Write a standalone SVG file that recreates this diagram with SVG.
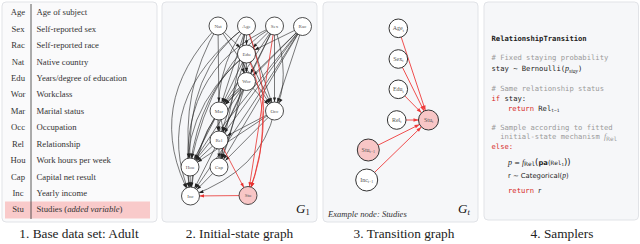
<svg xmlns="http://www.w3.org/2000/svg" width="640" height="244" viewBox="0 0 640 244">
<style>
.panel{fill:#f6f7f9;stroke:#e1e3e7;stroke-width:1}
.cap{font-family:"Liberation Serif",serif;font-size:13.3px;fill:#222;text-anchor:middle}
.ab{font-family:"Liberation Serif",serif;font-size:8.7px;fill:#333;text-anchor:middle}
.ds{font-family:"Liberation Serif",serif;font-size:8.7px;fill:#333}
.e{fill:none;stroke:#222;stroke-width:0.6;marker-end:url(#ab)}
.r{fill:none;stroke:#e8312f;stroke-width:0.8;marker-end:url(#ar)}
.r3{fill:none;stroke:#ee3b3b;stroke-width:0.9;marker-end:url(#ar3)}
.n circle{fill:#fff;stroke:#222;stroke-width:0.8}
.n3 circle{fill:#fff;stroke:#333;stroke-width:1}
.pk circle{fill:#f8c6c6}
.nl{font-family:"Liberation Serif",serif;font-size:5px;fill:#555;text-anchor:middle}
.nl3{font-family:"Liberation Serif",serif;font-size:6px;fill:#555;text-anchor:middle}
.code{font-family:"DejaVu Sans Mono",monospace;font-size:7.2px;fill:#222}
.cm{fill:#9a9a9a}
.kw{fill:#d62828}
.mi{font-family:"Liberation Serif",serif;font-style:italic}
.ms{font-family:"DejaVu Sans",sans-serif;font-size:6.8px;fill:#222}
.gl{font-family:"Liberation Serif",serif;font-style:italic;font-size:13px;fill:#111}
</style>
<defs>
<marker id="ab" markerUnits="userSpaceOnUse" markerWidth="5" markerHeight="4" refX="13.5" refY="1.6" orient="auto" overflow="visible"><path d="M0,0 L4.5,1.6 L0,3.2 z" fill="#222"/></marker>
<marker id="ar" markerUnits="userSpaceOnUse" markerWidth="5" markerHeight="4" refX="13.5" refY="1.6" orient="auto" overflow="visible"><path d="M0,0 L4.5,1.6 L0,3.2 z" fill="#e8312f"/></marker>
<marker id="ar3" markerUnits="userSpaceOnUse" markerWidth="5" markerHeight="4" refX="15" refY="1.8" orient="auto" overflow="visible"><path d="M0,0 L5,1.8 L0,3.6 z" fill="#ee3b3b"/></marker>
</defs>

<!-- Panel 1 -->
<rect class="panel" x="2" y="2" width="155" height="220" rx="4" style="fill:#fafafb"/>
<rect x="5" y="201.5" width="145" height="17" fill="#f9caca"/>
<line x1="31" y1="4" x2="31" y2="219" stroke="#333" stroke-width="0.8"/>
<g>
<text class="ab" x="18" y="15.3">Age</text><text class="ds" x="36.5" y="15.3">Age of subject</text>
<text class="ab" x="18" y="31.7">Sex</text><text class="ds" x="36.5" y="31.7">Self-reported sex</text>
<text class="ab" x="18" y="48.1">Rac</text><text class="ds" x="36.5" y="48.1">Self-reported race</text>
<text class="ab" x="18" y="64.6">Nat</text><text class="ds" x="36.5" y="64.6">Native country</text>
<text class="ab" x="18" y="81">Edu</text><text class="ds" x="36.5" y="81">Years/degree of education</text>
<text class="ab" x="18" y="97.4">Wor</text><text class="ds" x="36.5" y="97.4">Workclass</text>
<text class="ab" x="18" y="113.8">Mar</text><text class="ds" x="36.5" y="113.8">Marital status</text>
<text class="ab" x="18" y="130.2">Occ</text><text class="ds" x="36.5" y="130.2">Occupation</text>
<text class="ab" x="18" y="146.7">Rel</text><text class="ds" x="36.5" y="146.7">Relationship</text>
<text class="ab" x="18" y="163.1">Hou</text><text class="ds" x="36.5" y="163.1">Work hours per week</text>
<text class="ab" x="18" y="179.5">Cap</text><text class="ds" x="36.5" y="179.5">Capital net result</text>
<text class="ab" x="18" y="195.9">Inc</text><text class="ds" x="36.5" y="195.9">Yearly income</text>
<text class="ab" x="18" y="212.3">Stu</text><text class="ds" x="36.5" y="212.3">Studies (<tspan font-style="italic">added variable</tspan>)</text>
</g>
<text class="cap" x="79" y="238">1. Base data set: Adult</text>

<!-- Panel 2 -->
<rect class="panel" x="162" y="2" width="155" height="220" rx="4"/>
<g id="g1-edges">
<path class="e" d="M246.5,26 L246.5,54"/>
<path class="e" d="M246.5,54 L246.5,81.5"/>
<path class="e" d="M246.5,26 Q238,54 246.5,81.5"/>
<path class="e" d="M218,26 L219,111"/>
<path class="e" d="M218,26 L246.5,54"/>
<path class="e" d="M218,26 L274.5,111"/>
<path class="e" d="M246.5,26 L219,111"/>
<path class="e" d="M246.5,26 L274.5,111"/>
<path class="e" d="M274.5,26 L246.5,54"/>
<path class="e" d="M274.5,26 L246.5,81.5"/>
<path class="e" d="M274.5,26 L219,111"/>
<path class="e" d="M274.5,26 L274.5,111"/>
<path class="e" d="M274.5,26 L219,140"/>
<path class="e" d="M302.5,26.5 L246.5,54"/>
<path class="e" d="M302.5,26.5 L246.5,81.5"/>
<path class="e" d="M302.5,26.5 L219,111"/>
<path class="e" d="M302.5,26.5 L274.5,111"/>
<path class="e" d="M302.5,26.5 L219,140"/>
<path class="e" d="M302.5,26.5 L190,167"/>
<path class="e" d="M302.5,26.5 L219,167"/>
<path class="e" d="M302.5,26.5 Q250,110 190.5,196"/>
<path class="e" d="M246.5,54 L219,111"/>
<path class="e" d="M246.5,54 L274.5,111"/>
<path class="e" d="M246.5,54 L219,140"/>
<path class="e" d="M246.5,81.5 L219,111"/>
<path class="e" d="M246.5,81.5 L274.5,111"/>
<path class="e" d="M246.5,81.5 L219,140"/>
<path class="e" d="M246.5,81.5 L219,167"/>
<path class="e" d="M246.5,81.5 L190,167"/>
<path class="e" d="M219,111 L219,140"/>
<path class="e" d="M274.5,111 L219,140"/>
<path class="e" d="M219,111 L190,167"/>
<path class="e" d="M219,111 Q228,140 219,167"/>
<path class="e" d="M274.5,111 L190,167"/>
<path class="e" d="M274.5,111 L219,167"/>
<path class="e" d="M274.5,111 Q262,170 190.5,196"/>
<path class="e" d="M219,140 L190,167"/>
<path class="e" d="M219,140 L219,167"/>
<path class="e" d="M219,140 L190.5,196"/>
<path class="e" d="M190,167 L190.5,196"/>
<path class="e" d="M219,167 L190.5,196"/>
<path class="e" d="M218,26 Q180,90 190,167"/>
<path class="e" d="M218,26 Q142,105 190.5,196"/>
<path class="e" d="M246.5,26 Q185,70 190,167"/>
<path class="e" d="M246.5,26 Q150,100 190.5,196"/>
<path class="e" d="M246.5,26 Q212,70 219,140"/>
<path class="e" d="M246.5,26 Q232,100 219,167"/>
<path class="e" d="M274.5,26 Q212,60 190,167"/>
<path class="e" d="M274.5,26 Q172,70 190.5,196"/>
<path class="e" d="M246.5,54 Q200,90 190,167"/>
<path class="e" d="M246.5,54 Q175,115 190.5,196"/>
<path class="e" d="M246.5,54 Q238,120 219,167"/>
<path class="e" d="M246.5,81.5 Q198,120 190.5,196"/>
<path class="e" d="M219,111 Q192,150 190.5,196"/>
<path class="e" d="M274.5,26 Q292,80 274.5,111"/>
<path class="r" d="M246.5,26 Q280,110 248,195.5"/>
<path class="r" d="M274.5,26 L248,195.5"/>
<path class="r" d="M246.5,54 Q278,120 248,195.5"/>
<path class="r" d="M219,140 L248,195.5"/>
<path class="r" d="M248,195.5 L190.5,196"/>
</g>
<g id="g1-nat" class="n"><circle cx="218" cy="26" r="9"/><text class="nl" x="218" y="27.8">Nat</text></g>
<g id="g1-age" class="n"><circle cx="246.5" cy="26" r="9"/><text class="nl" x="246.5" y="27.8">Age</text></g>
<g id="g1-sex" class="n"><circle cx="274.5" cy="26" r="9"/><text class="nl" x="274.5" y="27.8">Sex</text></g>
<g id="g1-rac" class="n"><circle cx="302.5" cy="26.5" r="9"/><text class="nl" x="302.5" y="28.3">Rac</text></g>
<g id="g1-edu" class="n"><circle cx="246.5" cy="54" r="9"/><text class="nl" x="246.5" y="55.8">Edu</text></g>
<g id="g1-wor" class="n"><circle cx="246.5" cy="81.5" r="9"/><text class="nl" x="246.5" y="83.3">Wor</text></g>
<g id="g1-mar" class="n"><circle cx="219" cy="111" r="9"/><text class="nl" x="219" y="112.8">Mar</text></g>
<g id="g1-occ" class="n"><circle cx="274.5" cy="111" r="9"/><text class="nl" x="274.5" y="112.8">Occ</text></g>
<g id="g1-rel" class="n"><circle cx="219" cy="140" r="9"/><text class="nl" x="219" y="141.8">Rel</text></g>
<g id="g1-hou" class="n"><circle cx="190" cy="167" r="9"/><text class="nl" x="190" y="168.8">Hou</text></g>
<g id="g1-cap" class="n"><circle cx="219" cy="167" r="9"/><text class="nl" x="219" y="168.8">Cap</text></g>
<g id="g1-inc" class="n"><circle cx="190.5" cy="196" r="9"/><text class="nl" x="190.5" y="197.8">Inc</text></g>
<g id="g1-stu" class="n pk"><circle cx="248" cy="195.5" r="9"/><text class="nl" x="248" y="197.3">Stu</text></g>
<text class="gl" x="296" y="213">G<tspan font-size="8.5" font-style="normal" dy="2">1</tspan></text>
<text class="cap" x="239.5" y="238">2. Initial-state graph</text>

<!-- Panel 3 -->
<rect class="panel" x="323" y="2" width="155" height="220" rx="4"/>
<g id="gt-edges">
<path class="r3" d="M398.3,28.3 L428.5,120"/>
<path class="r3" d="M398.3,59 L428.5,120"/>
<path class="r3" d="M398.3,89.3 L428.5,120"/>
<path class="r3" d="M396.7,120 L428.5,120"/>
<path class="r3" d="M368.3,150 L428.5,120"/>
<path class="r3" d="M366.7,180 L428.5,120"/>
</g>
<g id="gt-age" class="n3"><circle cx="398.3" cy="28.3" r="9.3"/><text class="nl3" x="398.3" y="30.3">Age<tspan font-size="4" dy="1.2">t</tspan></text></g>
<g id="gt-sex" class="n3"><circle cx="398.3" cy="59" r="9.3"/><text class="nl3" x="398.3" y="61">Sex<tspan font-size="4" dy="1.2">t</tspan></text></g>
<g id="gt-edu" class="n3"><circle cx="398.3" cy="89.3" r="9.3"/><text class="nl3" x="398.3" y="91.3">Edu<tspan font-size="4" dy="1.2">t</tspan></text></g>
<g id="gt-rel" class="n3"><circle cx="396.7" cy="120" r="9.3"/><text class="nl3" x="396.7" y="122">Rel<tspan font-size="4" dy="1.2">t</tspan></text></g>
<g id="gt-stu" class="n3 pk"><circle cx="428.5" cy="120" r="10"/><text class="nl3" x="428.5" y="122">Stu<tspan font-size="4" dy="1.2">t</tspan></text></g>
<g id="gt-stu1" class="n3 pk"><circle cx="368.3" cy="150" r="11"/><text class="nl3" x="368.3" y="152">Stu<tspan font-size="4" dy="1.2">t−1</tspan></text></g>
<g id="gt-inc1" class="n3"><circle cx="366.7" cy="180" r="11"/><text class="nl3" x="366.7" y="182">Inc<tspan font-size="4" dy="1.2">t−1</tspan></text></g>
<text x="328" y="216.5" font-family="Liberation Serif, serif" font-style="italic" font-size="8.6" fill="#333">Example node: Studies</text>
<text class="gl" x="458" y="213">G<tspan font-size="8.5" dy="2">t</tspan></text>
<text class="cap" x="404" y="238">3. Transition graph</text>

<!-- Panel 4 -->
<rect class="panel" x="484" y="2" width="154.5" height="218" rx="4"/>
<text class="code" x="491.5" y="41" font-weight="bold">RelationshipTransition</text>
<text class="code cm" x="491.5" y="60">#<tspan> Fixed staying probability</tspan></text>
<text class="code" x="491.5" y="71">stay ~ Bernoulli(<tspan class="mi" font-size="8">p</tspan><tspan class="mi" font-size="5.5" dy="1.5">stay</tspan><tspan dy="-1.5">)</tspan></text>
<text class="code cm" x="491.5" y="91"># Same relationship status</text>
<text class="code" x="491.5" y="100.5"><tspan class="kw">if</tspan> stay:</text>
<text class="code" x="508" y="110.5"><tspan class="kw">return</tspan> Rel<tspan font-size="4.5" dy="1.5">t−1</tspan></text>
<text class="code cm" x="491.5" y="129.5"># Sample according to fitted</text>
<text class="code cm" x="500.2" y="139">initial-state mechanism <tspan class="mi" font-size="8">f</tspan><tspan font-size="6" dy="1.5">Rel</tspan></text>
<text class="code kw" x="491.5" y="149">else:</text>
<text class="ms" x="508" y="164.5"><tspan class="mi" font-size="8">p</tspan> = <tspan class="mi" font-size="8">f</tspan><tspan font-family="DejaVu Sans Mono, monospace" font-size="6" dy="1.5">Rel</tspan><tspan font-size="8.5" dy="-1.5">(</tspan><tspan font-weight="bold">pa</tspan>(<tspan font-family="DejaVu Sans Mono, monospace" font-size="6">Rel</tspan><tspan font-size="4" dy="1.2">1</tspan><tspan font-size="8.5" dy="-1.2">))</tspan></text>
<text class="ms" x="508" y="178">r ~ Categorical(<tspan class="mi" font-size="7.5">p</tspan>)</text>
<text class="code" x="508" y="192.5"><tspan class="kw">return</tspan> <tspan class="mi" font-size="7.5">r</tspan></text>
<text class="cap" x="562" y="238">4. Samplers</text>
</svg>
